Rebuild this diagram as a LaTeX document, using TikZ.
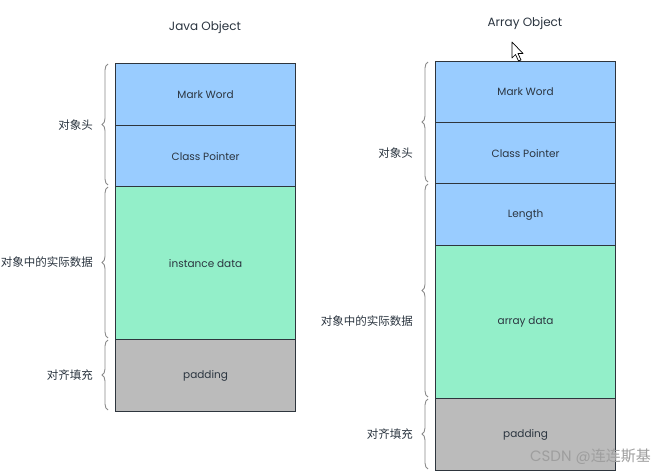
\documentclass[tikz,border=0pt]{standalone}
\usepackage{fontspec}
\setmainfont{Poppins}
\newfontfamily\cjk{Noto Sans CJK SC}
\usetikzlibrary{decorations.pathreplacing}
\definecolor{hdrblue}{HTML}{99CCFF}
\definecolor{datagreen}{HTML}{93EFC9}
\definecolor{padgray}{HTML}{BBBBBB}
\definecolor{edge}{HTML}{2E353D}
\definecolor{txt}{HTML}{2B3540}
\definecolor{bracec}{HTML}{8A8A8A}
\tikzset{
  cell/.style={draw=edge, line width=1.2pt, anchor=north west, minimum width=180pt, inner sep=0pt, text=txt, font=\fontsize{10.5}{12}\selectfont},
  hdr/.style={cell, fill=hdrblue},
  dat/.style={cell, fill=datagreen},
  pad/.style={cell, fill=padgray},
  ttl/.style={text=txt, font=\fontsize{12}{14}\selectfont},
  lbl/.style={anchor=east, text=txt, font=\cjk\fontsize{11.5}{13}\selectfont, inner sep=1pt},
  brc/.style={draw=bracec, line width=0.9pt, decorate, decoration={brace, amplitude=6pt, aspect=0.5}},
}
\begin{document}
\begin{tikzpicture}[x=1pt, y=-1pt]
\useasboundingbox[fill=white] (0,0) rectangle (665,476);
% titles
\node[ttl] (t1) at (205,27) {Java Object};
\node[ttl] (t2) at (525,23) {Array Object};
% left column
\node[hdr, minimum height=62pt] (a1) at (115,63) {Mark Word};
\node[hdr, minimum height=61pt] (a2) at (115,125) {Class Pointer};
\node[dat, minimum height=153pt] (a3) at (115,186) {instance data};
\node[pad, minimum height=72pt] (a4) at (115,339) {padding};
% right column
\node[hdr, minimum height=61pt] (b1) at (435,61) {Mark Word};
\node[hdr, minimum height=61pt] (b2) at (435,122) {Class Pointer};
\node[hdr, minimum height=62pt] (b3) at (435,183) {Length};
\node[dat, minimum height=153pt] (b4) at (435,245) {array data};
\node[pad, minimum height=72pt] (b5) at (435,398) {padding};
% braces left
\draw[brc] (108,185) -- (108,64);
\draw[brc] (108,338) -- (108,187);
\draw[brc] (108,410) -- (108,340);
\node[lbl] (la1) at (94,125) {对象头};
\node[lbl] (la2) at (94,262) {对象中的实际数据};
\node[lbl] (la3) at (94,375) {对齐填充};
% braces right
\draw[brc] (428,182) -- (428,62);
\draw[brc] (428,397) -- (428,184);
\draw[brc] (428,469) -- (428,399);
\node[lbl] (lb1) at (414,153) {对象头};
\node[lbl] (lb2) at (414,321) {对象中的实际数据};
\node[lbl] (lb3) at (414,434) {对齐填充};
% mouse cursor
\draw[fill=white, line width=0.7pt, line join=round]
  (512,42) -- (512,58) -- (515.5,54.5) -- (518.5,61) -- (521,60) -- (518,53.5) -- (523,53.5) -- cycle;
% watermark
\node[anchor=east, text=black!38, font=\fontsize{15}{17}\selectfont, inner sep=0pt] (wm) at (651,457) {CSDN @{\cjk 连连斯基}};
\end{tikzpicture}
\end{document}
